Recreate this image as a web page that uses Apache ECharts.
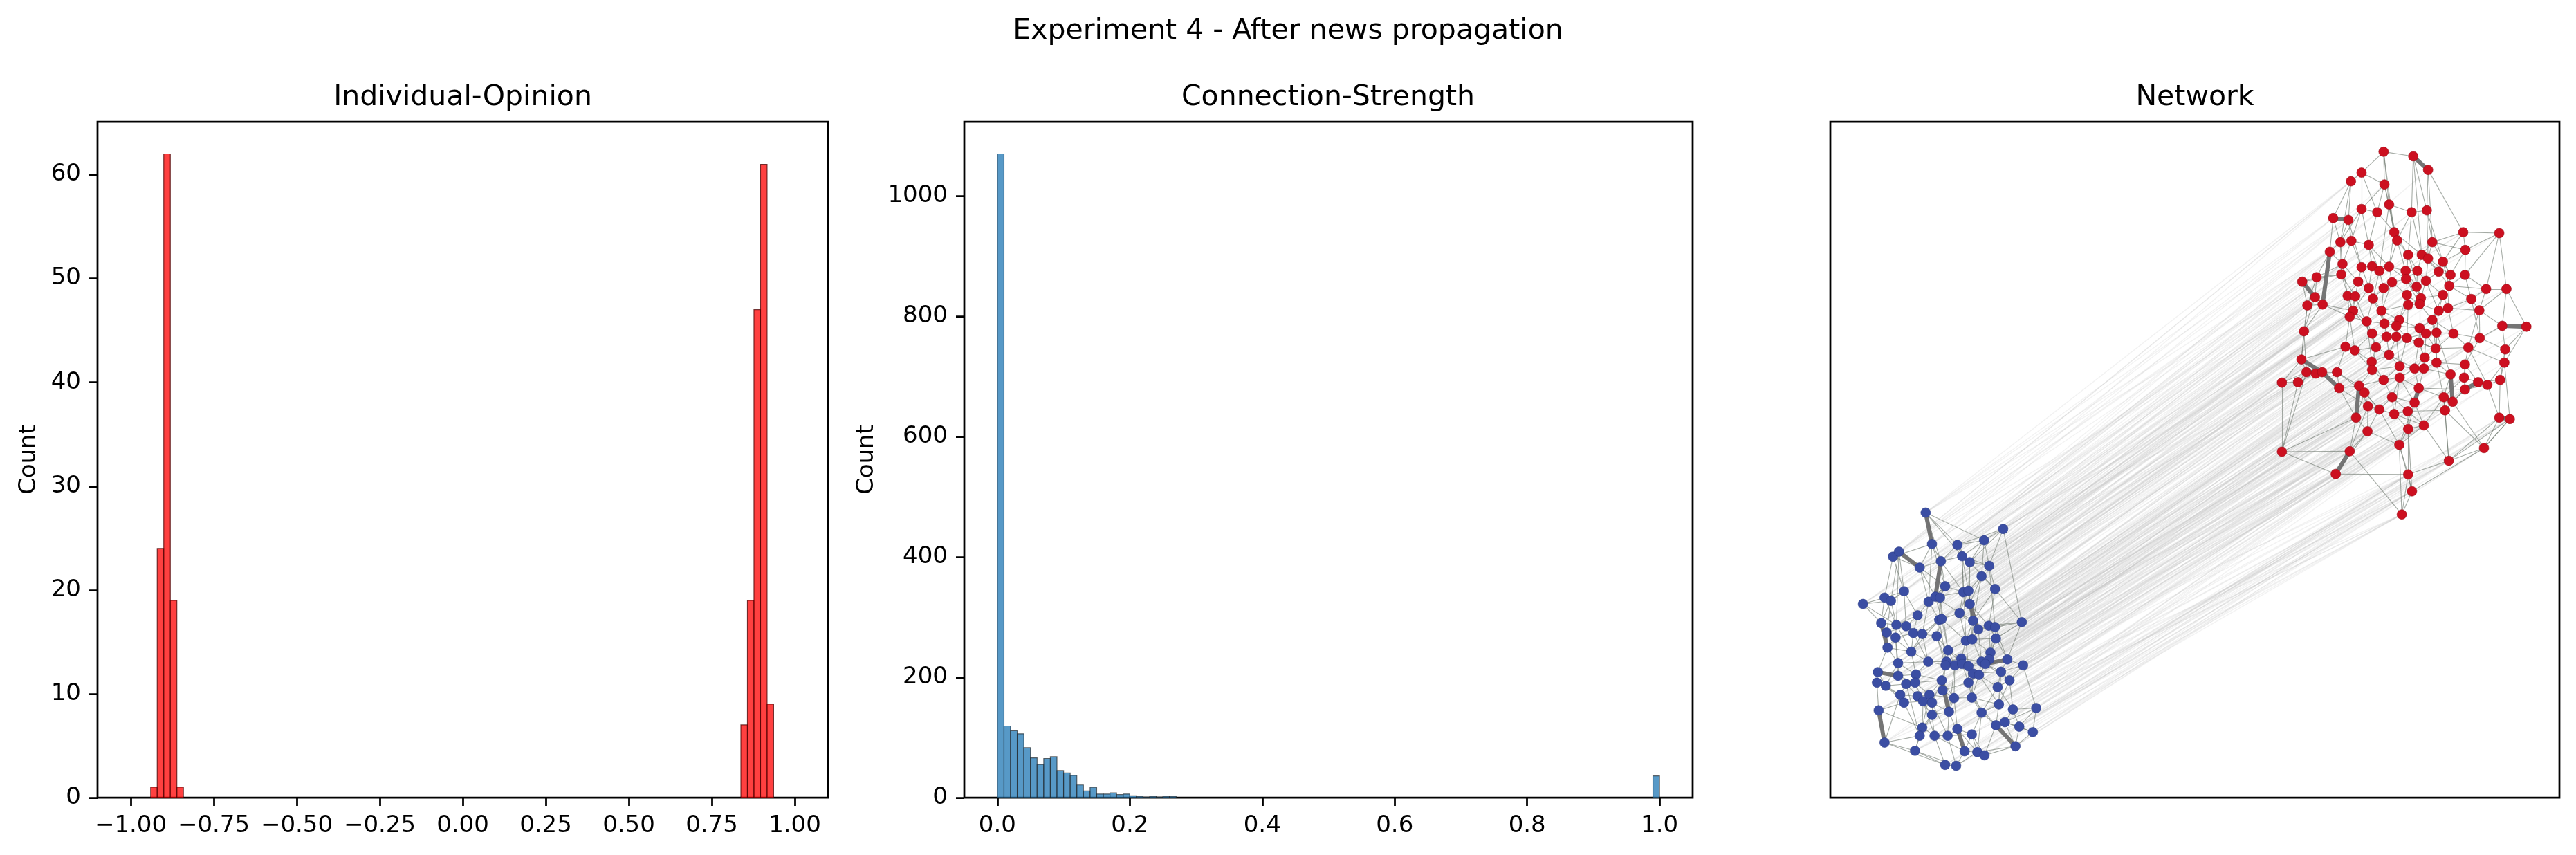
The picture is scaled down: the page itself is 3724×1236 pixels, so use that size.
<!DOCTYPE html>
<html>
<head>
<meta charset="utf-8">
<script src="https://cdn.jsdelivr.net/npm/echarts@6/dist/echarts.min.js"></script>
<style>
  html, body { margin: 0; padding: 0; background: #fff; }
  #chart { width: 3724px; height: 1236px; }
</style>
</head>
<body>
<div id="chart"></div>
<script>
// --- Individual-Opinion histogram ---
var opinionBinStart = [-0.94, -0.9203, -0.9005, -0.8808, -0.861, 0.8375, 0.8573, 0.877, 0.8968, 0.9165];
var opinionBinWidth = 0.01975;
var opinionCounts = [1, 24, 62, 19, 1, 7, 19, 47, 61, 9];
var opinionTicks = [-1, -0.75, -0.5, -0.25, 0, 0.25, 0.5, 0.75, 1];
var opinionTickLabels = ['\u22121.00', '\u22120.75', '\u22120.50', '\u22120.25', '0.00', '0.25', '0.50', '0.75', '1.00'];
var opinionCountTicks = [0, 10, 20, 30, 40, 50, 60];

// --- Connection-Strength histogram (bins of 0.01 from 0 to 1) ---
var strengthBinWidth = 0.01;
var strengthCounts = [
  1070, 119, 111, 106, 83, 66, 55, 65, 68, 45,
  41, 37, 21, 11, 17, 6, 6, 8, 5, 6,
  3, 2, 1, 2, 1, 2, 2, 0, 0, 0,
  0, 0, 0, 0, 0, 0, 0, 0, 0, 0,
  0, 0, 0, 0, 0, 0, 0, 0, 0, 0,
  0, 0, 0, 0, 0, 0, 0, 0, 0, 0,
  0, 0, 0, 0, 0, 0, 0, 0, 0, 0,
  0, 0, 0, 0, 0, 0, 0, 0, 0, 0,
  0, 0, 0, 0, 0, 0, 0, 0, 0, 0,
  0, 0, 0, 0, 0, 0, 0, 0, 0, 36
];
var strengthTicks = [0, 0.2, 0.4, 0.6, 0.8, 1.0];
var strengthTickLabels = ['0.0', '0.2', '0.4', '0.6', '0.8', '1.0'];
var strengthCountTicks = [0, 200, 400, 600, 800, 1000];

// --- Network layout (layout units) ---
var blueNodes = [
  [39,854],[222,890],[54,923],[177,915],[114,925],[-38,951],[-24,940],[25,975],[75,961],[125,950],
  [143,963],[189,971],[171,994],[85,1016],[203,1022],[128,1029],[140,1026],[-12,1027],[-109,1055],[-58,1041],
  [-43,1048],[46,1050],[62,1039],[73,1041],[143,1055],[20,1080],[119,1075],[71,1090],[77,1088],[-66,1097],
  [-30,1101],[-7,1104],[266,1095],[151,1092],[-53,1118],[10,1119],[31,1121],[65,1126],[163,1111],[188,1103],
  [203,1106],[-32,1129],[134,1136],[149,1133],[205,1131],[-51,1151],[5,1160],[92,1157],[192,1162],[189,1177],
  [45,1182],[88,1182],[123,1175],[171,1182],[232,1177],[-26,1185],[86,1190],[108,1190],[125,1187],[140,1192],
  [180,1187],[269,1190],[-74,1205],[-26,1213],[16,1210],[151,1208],[217,1204],[-76,1228],[-55,1235],[-7,1231],
  [14,1228],[77,1223],[79,1245],[140,1228],[165,1211],[237,1223],[209,1238],[-21,1255],[20,1258],[48,1255],
  [106,1262],[148,1261],[-12,1272],[33,1269],[54,1272],[212,1276],[-72,1289],[94,1292],[54,1299],[171,1294],
  [245,1287],[300,1284],[205,1322],[226,1315],[260,1325],[292,1337],[31,1327],[25,1345],[60,1345],[91,1345],
  [114,1330],[148,1342],[-58,1360],[251,1368],[14,1378],[131,1379],[161,1381],[178,1388],[85,1409],[111,1411]
];
var redNodes = [
  [1120,60],[1190,70],[1225,100],[1068,106],[1043,125],[1122,132],[1133,176],[1068,186],[1105,193],[1186,193],
  [1222,189],[1001,206],[1037,210],[1308,237],[1393,239],[1145,237],[1152,255],[1018,259],[1044,256],[1085,265],
  [1235,259],[1313,276],[993,280],[1178,287],[1210,287],[1225,295],[1260,302],[1023,307],[1068,314],[1093,312],
  [1110,322],[1133,313],[1172,322],[1200,322],[1250,324],[1278,331],[1312,331],[1020,330],[962,336],[928,346],
  [1060,346],[1085,360],[1120,360],[1140,347],[1173,340],[1198,357],[1220,344],[1275,355],[1362,362],[1410,362],
  [958,380],[1035,377],[1053,378],[1095,383],[1175,375],[1208,382],[1260,375],[1327,384],[940,398],[976,396],
  [1048,410],[1115,410],[1178,397],[1205,395],[1250,410],[1272,404],[1346,409],[1040,423],[1080,433],[1122,438],
  [1157,430],[1235,430],[1400,443],[1457,445],[932,455],[1150,443],[1205,448],[1093,460],[1127,467],[1150,467],
  [1175,470],[1220,460],[1245,458],[1285,460],[1347,470],[1030,489],[1052,497],[1102,490],[1203,480],[1243,493],
  [1320,491],[1407,495],[926,517],[1133,507],[1217,513],[1245,524],[1092,522],[1312,528],[1405,524],[1093,540],
  [1158,532],[1193,537],[1215,537],[938,545],[960,548],[975,545],[1010,545],[1278,550],[880,568],[918,567],
  [1120,562],[1158,557],[1310,557],[1343,567],[1365,573],[1395,562],[1015,580],[1062,575],[1203,580],[1312,583],
  [1075,590],[1140,600],[1193,612],[1262,600],[1283,610],[1083,620],[1110,627],[1145,637],[1177,631],[1265,629],
  [1055,645],[1393,645],[1418,648],[1215,662],[1082,675],[1178,670],[1157,705],[880,720],[1040,719],[1357,712],
  [1274,740],[1007,769],[1178,770],[1187,807],[1163,858]
];

var redEdges = [
  [0,5],[0,3],[0,1],[1,2],[1,10],[2,10],[3,4],[3,7],[4,12],[4,11],[5,6],[5,8],[6,9],[6,16],[7,8],[7,18],
  [8,19],[9,10],[9,23],[10,20],[11,12],[11,22],[12,17],[13,21],[13,14],[13,20],[14,49],[14,21],[15,16],[15,23],
  [16,32],[17,22],[17,27],[18,19],[18,28],[19,29],[20,25],[20,24],[21,36],[22,38],[23,24],[23,44],[24,33],
  [25,34],[26,35],[26,34],[27,37],[27,51],[28,40],[28,30],[29,41],[30,31],[30,42],[31,43],[32,33],[32,44],
  [33,46],[34,47],[35,47],[35,36],[36,57],[37,38],[37,52],[38,39],[38,50],[39,58],[40,52],[41,53],[42,61],
  [43,54],[44,45],[45,55],[46,56],[47,65],[48,66],[48,49],[49,73],[50,59],[51,60],[52,67],[53,61],[54,62],
  [55,63],[56,64],[57,66],[58,74],[59,60],[60,68],[61,69],[62,70],[63,76],[64,71],[65,83],[66,84],[67,85],
  [68,77],[69,78],[70,75],[71,82],[72,91],[74,92],[75,79],[76,81],[77,87],[78,93],[79,80],[80,88],
  [81,89],[82,95],[83,90],[84,97],[85,86],[86,99],[87,96],[88,101],[89,94],[90,98],[91,98],[92,103],[93,100],
  [94,102],[95,107],[96,99],[97,112],[98,115],[99,110],[100,111],[101,118],[102,118],[103,104],[104,105],
  [106,116],[108,109],[108,137],[109,103],[110,121],[111,122],[112,119],[113,114],[114,115],
  [115,131],[116,117],[117,120],[119,124],[120,125],[121,127],[122,128],[123,129],[125,126],
  [126,127],[127,128],[128,135],[129,140],[130,134],[132,139],[133,136],[134,138],[135,136],[136,142],
  [137,138],[139,140],[142,143],[143,144],
  [2,20],[3,5],[5,15],[7,17],[8,15],[9,24],[12,18],[15,31],[16,23],[19,30],[21,26],[24,25],[25,46],[27,40],
  [29,31],[31,32],[33,45],[34,46],[36,48],[40,41],[41,42],[42,43],[43,44],[45,54],[46,55],[47,57],
  [51,52],[53,68],[54,70],[55,62],[56,65],[57,84],[59,67],[60,77],[61,62],[63,64],[64,82],[65,66],[66,72],
  [67,86],[69,75],[70,76],[71,89],[73,91],[74,103],[75,80],[76,88],[77,78],[78,79],[79,100],[80,81],[81,82],
  [83,84],[85,106],[86,87],[87,93],[88,94],[89,95],[90,97],[92,108],[93,101],[94,95],[96,110],[97,113],
  [99,117],[100,101],[101,102],[102,107],[104,109],[106,117],[110,111],[111,118],[112,113],
  [114,131],[116,130],[117,125],[118,123],[119,129],[120,130],[121,122],[122,133],[124,129],[125,134],
  [126,136],[127,133],[128,133],[129,139],[130,138],[133,140],[134,141],[135,143],[136,144],[137,141],
  [139,132],[140,142],[141,142],
  [0,15],[1,24],[6,30],[10,26],[14,48],[20,35],[23,55],[28,53],[32,62],[37,60],[44,63],[49,72],[52,87],
  [58,92],[62,80],[68,96],[71,83],[76,102],[80,100],[82,107],[90,114],[95,123],[98,132],[103,137],[111,127],
  [121,126],[122,135],[123,140],[125,138],[131,139],
  [0,6],[1,9],[2,13],[3,8],[4,17],[5,7],[6,15],[7,19],[8,9],[9,16],[10,25],[11,17],[12,28],[13,26],[14,36],
  [15,24],[16,31],[17,37],[18,27],[19,31],[20,21],[21,35],[22,27],[23,33],[24,34],[25,35],[26,47],[27,38],
  [28,29],[29,30],[30,53],[31,44],[32,45],[33,44],[34,35],[36,47],[37,39],[38,58],[40,51],[41,60],[42,53],
  [43,61],[44,55],[45,46],[46,64],[47,48],[48,57],[49,66],[50,74],[51,67],[52,60],[53,69],[54,63],[55,56],
  [56,71],[57,65],[58,59],[59,74],[60,61],[61,70],[62,63],[63,71],[64,65],[66,90],[67,68],[68,69],[69,70],
  [70,79],[71,76],[72,84],[73,98],[75,76],[77,86],[78,87],[79,93],[80,89],[81,94],[82,83],[83,89],[84,91],
  [85,92],[86,96],[87,99],[88,89],[89,90],[91,115],[93,96],[94,101],[95,97],[97,119],[98,114],[99,100],
  [100,110],[101,111],[102,95],[103,108],[104,106],[106,120],[107,123],[109,137],[110,117],[111,121],
  [112,123],[113,115],[114,119],[116,125],[117,126],[118,119],[120,126],[121,128],[122,136],[123,133],
  [124,139],[126,134],[127,135],[128,129],[130,137],[131,140],[132,140],[133,135],[134,136],[135,142],
  [136,143],[138,144],[139,143],[142,144]
];
var redStrongEdges = [
  [1,2],[11,12],[22,59],[39,50],[103,105],[92,105],[105,116],[72,73],[131,132],[138,141],[117,130],
  [107,124],[123,124],[113,119],[118,122]
];

var blueEdges = [
  [0,2],[0,8],[0,4],[1,3],[1,11],[2,7],[2,8],[3,4],[3,10],[3,12],[4,9],[4,8],[5,6],[5,19],[6,17],
  [7,8],[7,21],[8,13],[9,10],[9,15],[10,11],[10,16],[11,12],[11,14],[12,14],[12,24],[13,22],[13,15],[14,33],
  [15,16],[15,26],[16,24],[17,20],[17,25],[18,19],[18,29],[19,20],[20,30],[21,22],[21,25],[22,23],[23,28],
  [24,33],[25,31],[26,33],[26,28],[27,37],[27,36],[28,47],[29,34],[30,31],[30,41],[31,35],[32,39],[32,40],
  [33,38],[34,41],[35,36],[35,46],[36,37],[37,47],[38,39],[38,43],[39,40],[40,44],[41,45],[42,43],[42,52],
  [43,48],[44,48],[44,54],[45,55],[46,50],[47,51],[48,49],[49,53],[50,51],[50,64],[51,56],[52,57],[52,58],
  [53,60],[54,61],[54,66],[55,63],[56,57],[57,58],[58,59],[59,65],[60,66],[61,75],[62,67],[63,64],
  [64,70],[65,73],[65,74],[66,76],[67,68],[68,77],[69,70],[69,78],[70,79],[71,72],[71,79],[72,80],[73,81],
  [74,81],[75,76],[75,90],[76,85],[77,82],[78,83],[79,84],[80,87],[81,89],[82,86],[83,96],[84,88],[85,89],
  [85,92],[87,99],[88,98],[89,101],[90,91],[90,93],[91,95],[92,93],[93,94],[94,95],[94,103],
  [96,97],[97,104],[98,99],[99,100],[100,101],[101,106],[102,104],[103,107],[104,108],[105,106],[105,109],
  [106,107],[108,109],
  [0,9],[1,10],[2,13],[3,9],[5,17],[7,13],[8,15],[9,16],[10,14],[12,33],[13,23],[14,39],[16,26],[17,31],
  [18,30],[19,29],[20,34],[21,27],[22,26],[23,47],[25,35],[26,42],[27,51],[28,42],[29,41],[30,46],
  [31,36],[32,44],[33,42],[34,45],[35,50],[36,50],[37,51],[38,53],[39,48],[40,54],[41,55],[42,59],[43,53],
  [44,49],[45,62],[46,64],[47,52],[48,60],[49,74],[50,56],[51,57],[52,65],[53,74],[55,68],[56,71],[57,80],
  [58,65],[59,73],[60,75],[61,91],[63,69],[64,78],[65,81],[66,75],[67,86],[68,82],[69,77],[70,83],[71,84],
  [72,87],[73,89],[74,85],[76,90],[78,88],[79,96],[80,100],[81,92],[82,97],[83,98],[84,87],[86,96],[87,105],
  [88,97],[89,106],[91,94],[92,107],[93,103],[95,103],[96,104],[98,108],[99,109],[101,107],
  [1,32],[11,40],[24,43],[47,58],[9,42],[2,21],[6,30],[77,102],[69,97],[57,87],
  [0,3],[1,4],[2,5],[3,11],[4,10],[5,7],[6,20],[7,22],[8,9],[9,11],[10,24],[12,16],[13,21],[14,32],
  [15,22],[16,33],[17,19],[18,20],[19,30],[20,29],[21,36],[22,28],[23,27],[24,39],[25,30],[26,38],[27,46],
  [28,37],[29,30],[31,34],[32,54],[33,43],[34,46],[35,41],[36,46],[37,56],[38,40],[39,44],[40,48],[41,63],
  [42,47],[43,44],[45,46],[47,57],[48,53],[49,60],[50,55],[51,52],[52,53],[53,59],[54,60],[55,64],[56,72],
  [57,59],[58,73],[59,60],[60,74],[61,66],[62,68],[63,70],[64,71],[65,66],[66,85],[67,77],[68,69],[70,71],
  [71,80],[72,73],[73,74],[74,76],[75,85],[76,89],[77,78],[78,79],[79,80],[80,81],[81,85],[82,83],[83,84],
  [84,99],[87,88],[88,96],[89,92],[90,94],[91,93],[93,95],[96,98],[97,102],[98,105],[99,101],[100,106],
  [101,105],[102,108],[103,106],[104,109],[106,109]
];
var blueStrongEdges = [
  [0,2],[6,7],[8,22],[29,45],[62,63],[60,54],[92,103],[100,105],[71,87],[86,102],[24,38]
];

// blue node index -> red node index
var crossEdges = [
  [0,3],[0,22],[0,38],[1,14],[1,2],[1,21],[2,11],[2,27],[3,9],[3,26],[3,48],[4,17],[4,5],[5,4],[5,39],
  [6,12],[6,22],[7,7],[7,37],[8,19],[8,30],[9,13],[9,24],[10,20],[10,36],[11,25],[11,47],[12,23],[12,33],
  [13,18],[13,40],[14,34],[14,57],[15,28],[15,43],[16,31],[16,46],[17,22],[17,50],[18,38],[18,58],[19,27],
  [19,39],[20,37],[20,51],[21,29],[21,52],[22,40],[22,41],[23,42],[23,53],[24,44],[24,55],[25,51],[25,60],
  [26,45],[26,54],[27,52],[27,61],[28,53],[28,62],[29,50],[29,59],[30,58],[30,67],[31,60],[31,68],[32,57],
  [32,66],[32,48],[33,56],[33,63],[34,59],[34,74],[35,61],[35,69],[36,67],[36,77],[37,68],[37,75],[38,64],
  [38,71],[39,65],[39,82],[40,66],[40,83],[41,74],[41,85],[42,70],[42,76],[43,71],[43,81],[44,72],[44,84],
  [45,92],[45,58],[46,77],[46,86],[47,78],[47,79],[48,83],[48,89],[49,82],[49,90],[50,85],[50,87],[51,87],
  [51,93],[52,80],[52,88],[53,88],[53,94],[54,90],[54,97],[55,103],[55,86],[56,93],[56,96],[57,96],[57,100],
  [58,100],[58,101],[59,101],[59,102],[60,89],[60,95],[61,98],[61,91],[62,108],[62,104],[63,104],[63,105],
  [64,106],[64,99],[65,102],[65,111],[66,95],[66,107],[67,109],[67,137],[68,105],[68,116],[69,116],[69,117],
  [70,99],[70,110],[71,110],[71,120],[72,117],[72,121],[73,111],[73,118],[74,94],[74,112],[75,112],[75,113],
  [76,107],[76,119],[77,116],[77,130],[78,120],[78,125],[79,121],[79,126],[80,118],[80,122],[81,122],
  [81,127],[82,125],[82,134],[83,126],[83,130],[84,127],[84,128],[85,119],[85,123],[86,137],[86,138],
  [87,128],[87,133],[88,130],[88,134],[89,123],[89,129],[90,113],[90,124],[91,114],[91,131],[92,124],
  [92,129],[93,129],[93,132],[94,131],[94,139],[95,139],[95,132],[96,134],[96,138],[97,138],[97,141],
  [98,136],[98,141],[99,133],[99,135],[100,135],[100,136],[101,133],[101,140],[102,141],[102,137],[103,140],
  [103,139],[104,141],[104,142],[105,136],[105,142],[106,140],[106,143],[107,143],[107,144],[108,142],
  [108,144],[109,144],[109,143],
  [5,58],[18,74],[29,92],[45,108],[62,137],[67,141],[2,15],[10,49],[32,73],[54,115],[61,132],[20,39],
  [34,50],[41,103],[55,109],[77,138],[86,141],[102,144],[0,11],[6,17],[13,27],[21,41],[27,60],[36,68],
  [46,85],[56,99],[64,117],[70,120],[78,130],[83,134],[88,138],[96,141],[104,143],
  [0,7],[1,10],[1,13],[2,4],[3,20],[4,8],[5,11],[6,3],[7,18],[8,12],[9,16],[10,9],[11,35],[12,15],[13,28],
  [14,26],[15,31],[16,43],[17,37],[18,50],[19,40],[20,27],[21,42],[22,52],[23,41],[24,54],[25,52],[26,62],
  [27,53],[28,69],[29,67],[30,51],[31,77],[32,65],[33,70],[34,60],[35,78],[36,60],[37,87],[38,75],[39,72],
  [40,84],[41,67],[42,80],[43,88],[44,90],[45,74],[46,96],[47,93],[48,95],[49,97],[50,99],[51,100],[52,101],
  [53,102],[54,112],[55,92],[56,110],[57,111],[58,118],[59,122],[60,107],[61,113],[62,103],[63,106],
  [64,120],[65,121],[66,119],[67,108],[68,117],[69,125],[70,126],[71,127],[72,128],[73,133],[74,123],
  [75,124],[76,129],[77,134],[78,134],[79,135],[80,136],[81,133],[82,138],[83,136],[84,142],[85,140],
  [86,130],[87,142],[88,141],[89,140],[90,139],[91,132],[92,140],[93,131],[94,132],[95,131],[96,137],
  [97,134],[98,142],[99,143],[100,144],[101,143],[102,138],[103,143],[104,144],[105,144],[106,142],
  [107,142],[108,143],[109,142]
];

var FONT = 'DejaVu Sans';
var BLACK = '#000';
var SPINE = 2.75;

function histData(starts, width, counts) {
  var out = [];
  for (var i = 0; i < counts.length; i++) {
    if (counts[i] > 0) out.push([starts[i], starts[i] + width, counts[i]]);
  }
  return out;
}

var strengthStarts = strengthCounts.map(function (c, i) { return i * strengthBinWidth; });

function histSeries(idx, data, fill, stroke) {
  return {
    type: 'custom',
    xAxisIndex: idx,
    yAxisIndex: idx,
    data: data,
    encode: { x: [0, 1], y: 2 },
    renderItem: function (params, api) {
      var p0 = api.coord([api.value(0), api.value(2)]);
      var p1 = api.coord([api.value(1), 0]);
      return {
        type: 'rect',
        shape: { x: p0[0], y: p0[1], width: p1[0] - p0[0], height: p1[1] - p0[1] },
        style: { fill: fill, stroke: stroke, lineWidth: 1.2 }
      };
    }
  };
}

function edgeLines(edges, fromNodes, toNodes) {
  return edges.map(function (e) {
    return { coords: [fromNodes[e[0]], toNodes[e[1]]] };
  });
}

function valueAxis(grid, min, max, ticks, labels, extra) {
  var ax = {
    type: 'value',
    gridIndex: grid,
    min: min,
    max: max,
    splitLine: { show: false },
    axisLine: { show: false, onZero: false },
    axisTick: {
      show: true, inside: false, length: 12, customValues: ticks,
      lineStyle: { color: BLACK, width: SPINE }
    },
    axisLabel: {
      show: true, margin: 24, customValues: ticks,
      fontFamily: FONT, fontSize: 34, color: BLACK,
      formatter: function (v) {
        var k = -1;
        for (var i = 0; i < ticks.length; i++) if (Math.abs(ticks[i] - v) < 1e-9) k = i;
        return k >= 0 ? labels[k] : '';
      }
    }
  };
  for (var key in extra) ax[key] = extra[key];
  return ax;
}

var gridBox = { show: true, borderColor: BLACK, borderWidth: SPINE, backgroundColor: '#fff', containLabel: false };
var countName = { fontFamily: FONT, fontSize: 34, color: BLACK };
var titleFont = '41px "DejaVu Sans"';

var option = {
  animation: false,
  backgroundColor: '#fff',
  grid: [
    Object.assign({ left: 141, top: 176, width: 1056, height: 977 }, gridBox),
    Object.assign({ left: 1394, top: 176, width: 1053, height: 977 }, gridBox),
    Object.assign({ left: 2646, top: 176, width: 1054, height: 977 }, gridBox)
  ],
  xAxis: [
    valueAxis(0, -1.1, 1.1, opinionTicks, opinionTickLabels, {}),
    valueAxis(1, -0.05, 1.05, strengthTicks, strengthTickLabels, {}),
    { type: 'value', gridIndex: 2, min: -186, max: 1535, show: false }
  ],
  yAxis: [
    valueAxis(0, 0, 65.1, opinionCountTicks, opinionCountTicks.map(String), {
      name: 'Count', nameLocation: 'middle', nameGap: 82, nameRotate: 90, nameTextStyle: countName
    }),
    valueAxis(1, 0, 1123.5, strengthCountTicks, strengthCountTicks.map(String), {
      name: 'Count', nameLocation: 'middle', nameGap: 124, nameRotate: 90, nameTextStyle: countName
    }),
    { type: 'value', gridIndex: 2, min: -6, max: 1481, inverse: true, show: false }
  ],
  graphic: [
    { type: 'text', x: 1862, y: 45, style: { text: 'Experiment 4 - After news propagation', font: titleFont, fill: BLACK, textAlign: 'center', textVerticalAlign: 'middle' } },
    { type: 'text', x: 669, y: 141, style: { text: 'Individual-Opinion', font: titleFont, fill: BLACK, textAlign: 'center', textVerticalAlign: 'middle' } },
    { type: 'text', x: 1920, y: 141, style: { text: 'Connection-Strength', font: titleFont, fill: BLACK, textAlign: 'center', textVerticalAlign: 'middle' } },
    { type: 'text', x: 3173, y: 141, style: { text: 'Network', font: titleFont, fill: BLACK, textAlign: 'center', textVerticalAlign: 'middle' } }
  ],
  series: [
    histSeries(0, histData(opinionBinStart, opinionBinWidth, opinionCounts), 'rgba(255,0,0,0.75)', 'rgba(70,0,0,0.75)'),
    histSeries(1, histData(strengthStarts, strengthBinWidth, strengthCounts), 'rgba(31,119,180,0.75)', 'rgba(30,30,30,0.65)'),
    {
      type: 'lines', coordinateSystem: 'cartesian2d', xAxisIndex: 2, yAxisIndex: 2,
      data: edgeLines(crossEdges, blueNodes, redNodes),
      lineStyle: { color: 'rgba(195,195,195,0.22)', width: 1.4, opacity: 1 },
      silent: true
    },
    {
      type: 'lines', coordinateSystem: 'cartesian2d', xAxisIndex: 2, yAxisIndex: 2,
      data: edgeLines(redEdges, redNodes, redNodes).concat(edgeLines(blueEdges, blueNodes, blueNodes)),
      lineStyle: { color: 'rgba(105,115,105,0.6)', width: 1.1, opacity: 1 },
      silent: true
    },
    {
      type: 'lines', coordinateSystem: 'cartesian2d', xAxisIndex: 2, yAxisIndex: 2,
      data: edgeLines(redStrongEdges, redNodes, redNodes).concat(edgeLines(blueStrongEdges, blueNodes, blueNodes)),
      lineStyle: { color: 'rgba(110,110,110,0.95)', width: 6, opacity: 1 },
      silent: true
    },
    {
      type: 'scatter', xAxisIndex: 2, yAxisIndex: 2, data: blueNodes, symbolSize: 14,
      itemStyle: { color: '#3b4ea3', borderColor: '#2c3c86', borderWidth: 0.6, opacity: 1 }
    },
    {
      type: 'scatter', xAxisIndex: 2, yAxisIndex: 2, data: redNodes, symbolSize: 14,
      itemStyle: { color: '#cc1020', borderColor: '#9a0a16', borderWidth: 0.6, opacity: 1 }
    }
  ]
};

var chart = echarts.init(document.getElementById('chart'), null, { renderer: 'canvas', width: 3724, height: 1236 });
chart.setOption(option);
</script>
</body>
</html>
